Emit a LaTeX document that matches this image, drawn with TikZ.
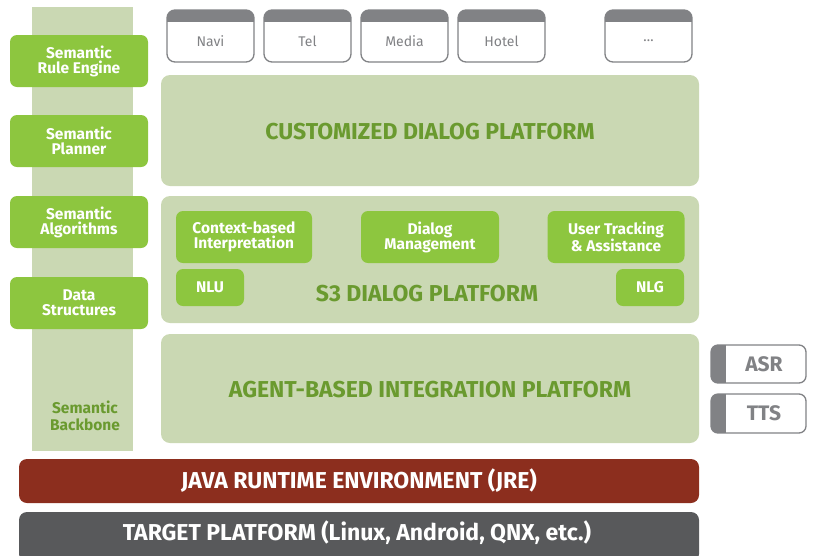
\documentclass[tikz,border=0pt]{standalone}
\usepackage{fontspec}
\setmainfont{Fira Sans}
\definecolor{lgreen}{HTML}{CAD8B3}
\definecolor{bgreen}{HTML}{8DC63F}
\definecolor{dgreen}{HTML}{6A9A2F}
\definecolor{jre}{HTML}{8C2E1E}
\definecolor{tgt}{HTML}{58595B}
\definecolor{gry}{HTML}{818285}
\begin{document}
\begin{tikzpicture}[x=1pt,y=-1pt,
  layer/.style={fill=lgreen,rounded corners=9pt},
  gbox/.style={fill=bgreen,rounded corners=7pt,text=white,font=\bfseries\fontsize{15.5}{15}\selectfont,align=center,inner sep=0pt},
  title/.style={text=dgreen,font=\bfseries\fontsize{23}{24}\selectfont},
  band/.style={rounded corners=8pt,text=white,font=\bfseries\fontsize{23}{24}\selectfont}]
\useasboundingbox (0,0) rectangle (813,555);
% backbone
\fill[lgreen] (32,7) rectangle (133,451);
\node[text=dgreen,font=\bfseries\fontsize{15.5}{17}\selectfont,align=center] (bb) at (85,416) {Semantic\\Backbone};
% left boxes
\node[gbox,minimum width=138pt,minimum height=52pt] (sre) at (79,61) {Semantic\\Rule Engine};
\node[gbox,minimum width=138pt,minimum height=52pt] (sp) at (79,141) {Semantic\\Planner};
\node[gbox,minimum width=138pt,minimum height=52pt] (sa) at (79,222) {Semantic\\Algorithms};
\node[gbox,minimum width=138pt,minimum height=52pt] (ds) at (79,303) {Data\\Structures};
% app boxes
\foreach \nm/\x/\t in {navi/210/Navi,tel/307/Tel,media/404/Media,hotel/501/Hotel,more/648/\dots}{
  \begin{scope}
  \clip[rounded corners=8pt] (\x-43,10) rectangle (\x+44,62);
  \fill[white] (\x-43,10) rectangle (\x+44,62);
  \fill[gry] (\x-43,10) rectangle (\x+44,22);
  \end{scope}
  \draw[gry,line width=1.3pt,rounded corners=8pt] (\x-43,10) rectangle (\x+44,62);
  \node[text=gry,font=\fontsize{14}{14}\selectfont] (\nm) at (\x+0.5,41) {\t};
}
% platforms
\fill[layer] (161,75) rectangle (699,186);
\node[title] (cdp) at (430,132) {CUSTOMIZED DIALOG PLATFORM};
\fill[layer] (161,196) rectangle (699,323);
\node[title] (s3) at (427,294) {S3 DIALOG PLATFORM};
\node[gbox,minimum width=136pt,minimum height=52pt] (ctx) at (244,237) {Context-based\\Interpretation};
\node[gbox,minimum width=138pt,minimum height=52pt] (dm) at (430,237) {Dialog\\Management};
\node[gbox,minimum width=137pt,minimum height=52pt] (ut) at (616,237) {User Tracking\\\& Assistance};
\node[gbox,minimum width=68pt,minimum height=37pt] (nlu) at (210,287.5) {NLU};
\node[gbox,minimum width=68pt,minimum height=37pt] (nlg) at (650,287.5) {NLG};
\fill[layer] (161,334) rectangle (699,443);
\node[title] (abip) at (430,390) {AGENT-BASED INTEGRATION PLATFORM};
% ASR TTS
\foreach \nm/\ya/\yb/\t in {asr/345/383/ASR,tts/394/433/TTS}{
  \begin{scope}
  \clip[rounded corners=7pt] (711,\ya) rectangle (806,\yb);
  \fill[white] (711,\ya) rectangle (806,\yb);
  \fill[gry] (711,\ya) rectangle (726,\yb);
  \end{scope}
  \draw[gry,line width=1.3pt,rounded corners=7pt] (711,\ya) rectangle (806,\yb);
  \node[text=gry,font=\bfseries\fontsize{21}{21}\selectfont] (\nm) at (764,{(\ya+\yb)/2}) {\t};
}
% bands
\fill[jre,rounded corners=8pt] (19,459) rectangle (699,503);
\node[band] (jreT) at (359,481) {JAVA RUNTIME ENVIRONMENT (JRE)};
\fill[tgt,rounded corners=8pt] (19,512) rectangle (699,562);
\node[band] (tgtT) at (357,533) {TARGET PLATFORM (Linux, Android, QNX, etc.)};
\end{tikzpicture}
\end{document}
